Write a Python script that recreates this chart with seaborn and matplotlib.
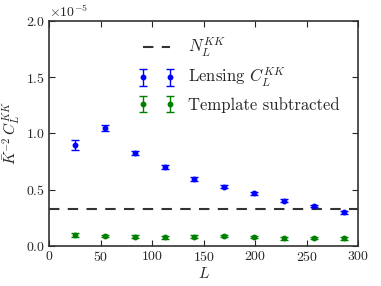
import matplotlib

matplotlib.use("Agg")
import matplotlib.pyplot as plt
import numpy as np
import seaborn as sns

# band centres in L
ell = [25, 54, 83, 112, 141, 170, 199, 228, 257, 286]
# values in units of 1e-5
lensing = [0.90, 1.045, 0.83, 0.70, 0.595, 0.525, 0.47, 0.40, 0.355, 0.30]
lensing_err = [0.045, 0.027, 0.018, 0.018, 0.014, 0.013, 0.013, 0.013, 0.013, 0.013]
template = [0.10, 0.089, 0.083, 0.077, 0.083, 0.089, 0.080, 0.068, 0.071, 0.068]
template_err = [0.016, 0.012, 0.012, 0.012, 0.012, 0.012, 0.012, 0.011, 0.011, 0.011]
noise = 0.33
scale = 1e-5

sns.set_style("ticks")
plt.rcParams["font.family"] = "serif"
plt.rcParams["font.serif"] = ["cmr10"]
plt.rcParams["mathtext.fontset"] = "cm"
plt.rcParams["axes.formatter.use_mathtext"] = True
plt.rcParams["axes.unicode_minus"] = False

fig = plt.figure(figsize=(3.81, 2.86), dpi=100)
ax = fig.add_axes([0.129, 0.14, 0.811, 0.787])

ax.axhline(noise * scale, ls="--", color="0.2", lw=1.5, dashes=(5, 4), label=r"$N_L^{KK}$")
ax.errorbar(ell, np.array(lensing) * scale, yerr=np.array(lensing_err) * scale,
            fmt="o", color="b", ms=3.2, capsize=3, elinewidth=1, capthick=1,
            label=r"Lensing $C_L^{KK}$")
ax.errorbar(ell, np.array(template) * scale, yerr=np.array(template_err) * scale,
            fmt="o", color="g", ms=3.2, capsize=3, elinewidth=1, capthick=1,
            label="Template subtracted")

ax.set_xlim(0, 300)
ax.set_ylim(0, 2e-5)
ax.set_xticks([0, 50, 100, 150, 200, 250, 300])
ax.set_yticks([0, 0.5e-5, 1.0e-5, 1.5e-5, 2.0e-5])
ax.ticklabel_format(axis="y", style="sci", scilimits=(0, 0))
ax.yaxis.get_offset_text().set_fontsize(10)
ax.tick_params(direction="in", top=True, right=True, labelsize=10, length=4,
               width=0.8, pad=3)
for s in ax.spines.values():
    s.set_linewidth(1.2)
    s.set_color("0.2")

ax.set_xlabel(r"$L$", fontsize=11, labelpad=1)
ax.set_ylabel(r"$\bar{K}^{-2}\,C_L^{KK}$", fontsize=11, labelpad=2)
ax.legend(loc="upper center", bbox_to_anchor=(0.615, 1.0), frameon=False,
          numpoints=2, fontsize=12, handlelength=2.2, labelspacing=0.45)

fig.savefig("out.png", dpi=100)
